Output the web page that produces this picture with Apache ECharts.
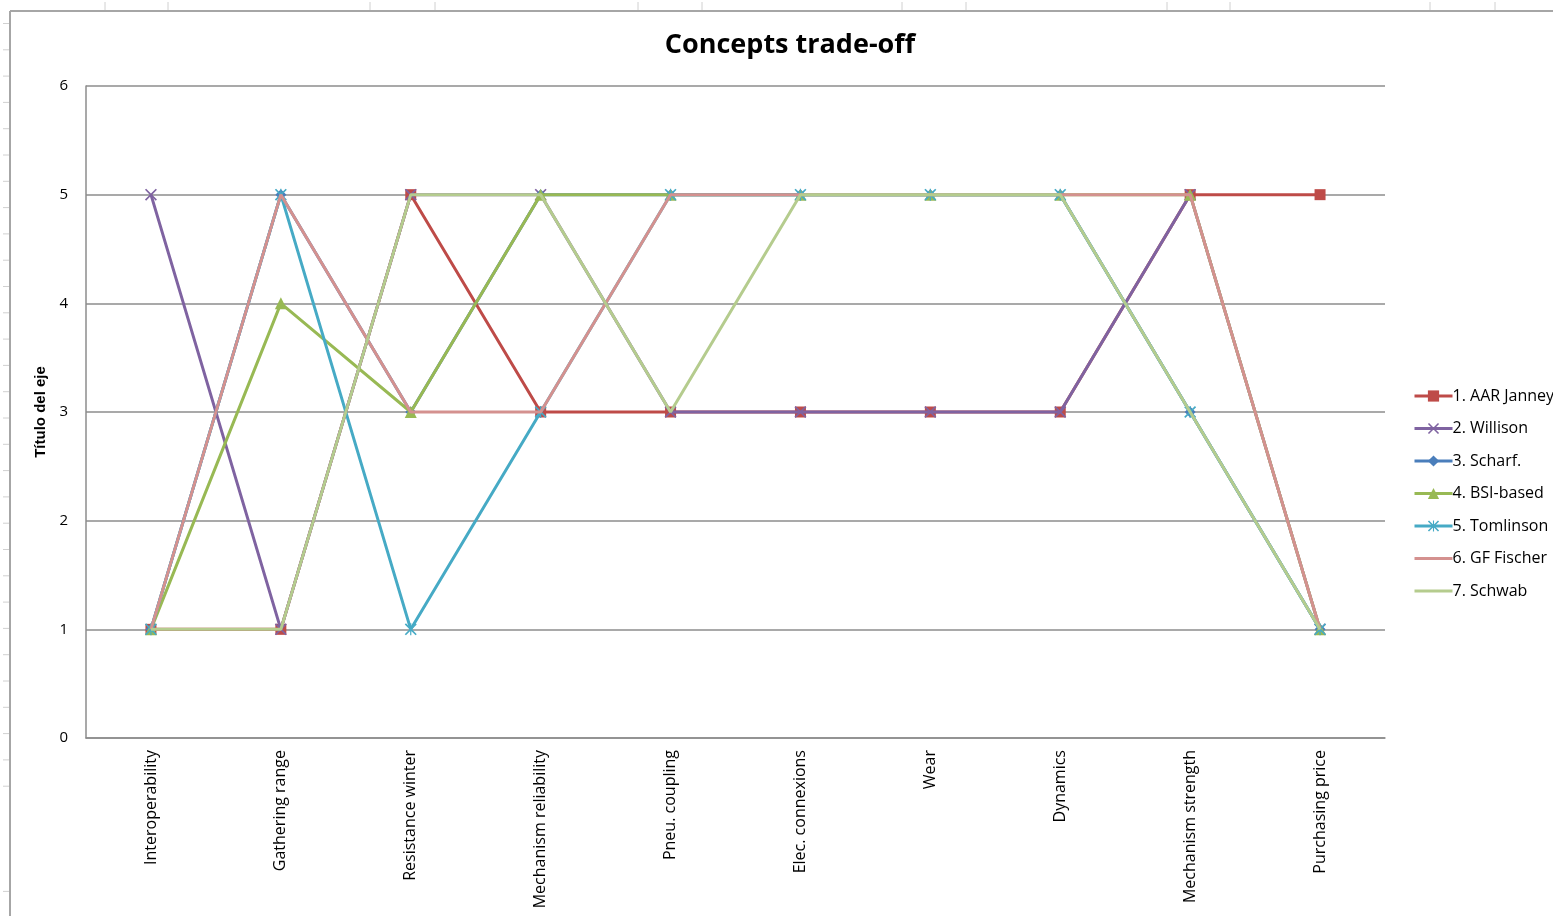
<!DOCTYPE html>
<html>
<head>
<meta charset="utf-8">
<script src="https://cdn.jsdelivr.net/npm/echarts@6/dist/echarts.min.js"></script>
<style>
html,body{margin:0;padding:0;background:#fff;}
#c{width:1553px;height:916px;}
</style>
</head>
<body>
<div id="c"></div>
<script>
// ---- data ----
const categories = ['Interoperability','Gathering range','Resistance winter','Mechanism reliability','Pneu. coupling','Elec. connexions','Wear','Dynamics','Mechanism strength','Purchasing price'];
const seriesNames = ['1. AAR Janney','2. Willison','3. Scharf.','4. BSI-based','5. Tomlinson','6. GF Fischer','7. Schwab'];
const aarJanney = [1,1,5,3,3,3,3,3,5,5];
const willison  = [5,1,5,5,3,3,3,3,5,1];
const scharf    = [1,5,3,5,5,5,5,5,3,1];
const bsiBased  = [1,4,3,5,5,5,5,5,5,1];
const tomlinson = [1,5,1,3,5,5,5,5,3,1];
const gfFischer = [1,5,3,3,5,5,5,5,5,1];
const schwab    = [1,1,5,5,3,5,5,5,3,1];
const yTicks = [0,1,2,3,4,5,6];
const titleText = 'Concepts trade-off';
const yAxisTitle = 'Título del eje';

const seriesValues = [aarJanney, willison, scharf, bsiBased, tomlinson, gfFischer, schwab];
const colors = ['#BE4B48','#7F63A1','#4A7EBB','#98B954','#46AAC5','#D4918F','#B5CC8E'];
const crossPath = 'path://M0,1L1,0L5,4L9,0L10,1L6,5L10,9L9,10L5,6L1,10L0,9L4,5Z';
const starPath = 'path://M0,1L1,0L5,4L9,0L10,1L6,5L10,9L9,10L5,6L1,10L0,9L4,5ZM5.5,0L5.5,10L4.5,10L4.5,0Z';
const symbols = ['rect', crossPath, 'diamond', 'triangle', starPath, 'none', 'none'];
const symbolSizes = [11, 12, 11, 12, 12, 0, 0];
const plainLineIcon = 'path://M0,0L40,0L40,3L0,3Z';

const series = seriesNames.map((n, i) => ({
  name: n,
  type: 'line',
  data: seriesValues[i],
  symbol: symbols[i],
  symbolSize: symbolSizes[i],
  showSymbol: symbols[i] !== 'none',
  lineStyle: { color: colors[i], width: 3 },
  itemStyle: { color: colors[i] },
  z: 2 + i,
  animation: false
}));

const legendData = seriesNames.map((n, i) => symbols[i] === 'none' ? { name: n, icon: plainLineIcon } : { name: n });

// spreadsheet background decorations
const graphics = [];
graphics.push({ type: 'line', shape: { x1: 10, y1: 11, x2: 1553, y2: 11 }, style: { stroke: '#a6a6a6', lineWidth: 2 }, silent: true });
graphics.push({ type: 'line', shape: { x1: 10, y1: 11, x2: 10, y2: 916 }, style: { stroke: '#a6a6a6', lineWidth: 2 }, silent: true });
[105,168,370,435,638,702,902,966,1167,1230,1430,1495].forEach(x => {
  graphics.push({ type: 'line', shape: { x1: x, y1: 2, x2: x, y2: 10 }, style: { stroke: '#d0d0d0', lineWidth: 1 }, silent: true });
});
for (let k = 0; k < 35; k++) {
  const y = 23.5 + 26.3 * k;
  if (y > 800 && y < 880) continue;
  graphics.push({ type: 'line', shape: { x1: 3, y1: y, x2: 9, y2: y }, style: { stroke: '#d0d0d0', lineWidth: 1 }, silent: true });
}

const chart = echarts.init(document.getElementById('c'), null, { renderer: 'canvas' });
chart.setOption({
  backgroundColor: '#fff',
  animation: false,
  graphic: graphics,
  title: {
    text: titleText,
    left: 785, top: 27,
    textAlign: 'center',
    textStyle: { fontFamily: 'Open Sans', fontWeight: 'bold', fontSize: 27, color: '#000' }
  },
  legend: {
    orient: 'vertical',
    left: 1408, top: 383,
    itemWidth: 38, itemHeight: 14, itemGap: 16.5,
    lineStyle: { width: 3 },
    textStyle: { fontFamily: 'Open Sans', fontSize: 16, color: '#000', padding: [0,0,0,-5] },
    data: legendData
  },
  grid: { left: 86, right: 168, top: 86, bottom: 178, containLabel: false },
  xAxis: {
    type: 'category',
    data: categories,
    boundaryGap: true,
    axisLine: { lineStyle: { color: '#8c8c8c', width: 1.5 } },
    axisTick: { show: false },
    axisLabel: { rotate: 90, margin: 12, fontFamily: 'Open Sans', fontSize: 16, color: '#000', interval: 0 },
    splitLine: { show: false }
  },
  yAxis: {
    type: 'value',
    min: 0, max: 6, interval: 1,
    name: yAxisTitle,
    nameLocation: 'middle',
    nameGap: 34,
    nameRotate: 90,
    nameTextStyle: { fontFamily: 'Liberation Sans', fontWeight: 'bold', fontSize: 15, color: '#000' },
    axisLine: { show: true, lineStyle: { color: '#8c8c8c', width: 1.5 } },
    axisTick: { show: false },
    axisLabel: { margin: 18, fontFamily: 'Open Sans', fontSize: 15, color: '#000',
      formatter: v => yTicks.includes(v) ? String(v) : '' },
    splitLine: { lineStyle: { color: '#8c8c8c', width: 1.5 } }
  },
  series: series
});
</script>
</body>
</html>
